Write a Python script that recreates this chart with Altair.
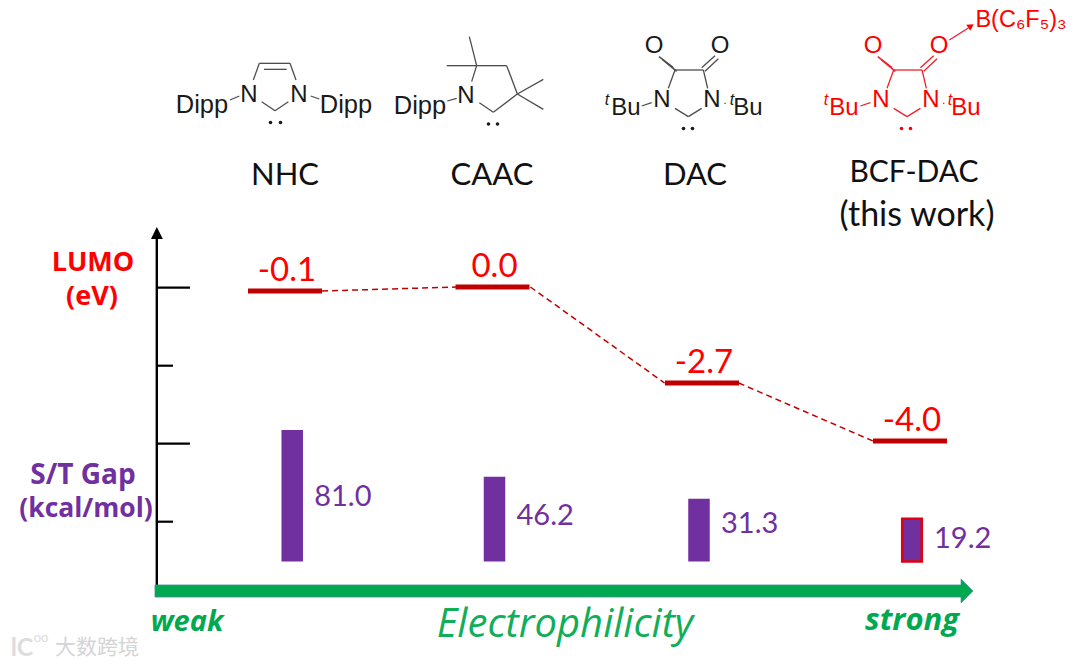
import altair as alt
import pandas as pd

# ---------- chart values ----------
categories = ["NHC", "CAAC", "DAC", "BCF-DAC"]
lumo_ev = [-0.1, 0.0, -2.7, -4.0]
lumo_labels = ["-0.1", "0.0", "-2.7", "-4.0"]
st_gap = [81.0, 46.2, 31.3, 19.2]
gap_labels = ["81.0", "46.2", "31.3", "19.2"]
axis_ticks = [0, 1, 2, 3]
axis_major = [1, 0, 1, 0]

RED, DARKRED, PURPLE, GREEN = "#FF0000", "#C00000", "#7030A0", "#00A850"
INK = "#1A1A1A"

# ---------- scales: plain numbers go in, figure pixels come out ----------
def px_x(v):
    return v - 8

def px_y(v):
    return v - 8

def canvas_x(f):
    return alt.X(f, type="quantitative", axis=None,
                 scale=alt.Scale(domain=[0, 1080], range=[-8, 1072], nice=False, zero=False, padding=0))

def canvas_y(f):
    return alt.Y(f, type="quantitative", axis=None,
                 scale=alt.Scale(domain=[0, 668], range=[-8, 660], nice=False, zero=False, padding=0))

x_level = alt.Scale(domain=[0, 1, 2, 3], range=[px_x(285), px_x(492.5), px_x(702), px_x(910)], nice=False, zero=False, padding=0)
x_bar = alt.Scale(domain=[0, 1, 2, 3], range=[px_x(292.2), px_x(494.5), px_x(699), px_x(912)], nice=False, zero=False, padding=0)
y_lumo = alt.Scale(domain=[-4.0, -2.7, -0.1, 0.0], range=[px_y(441), px_y(383), px_y(291), px_y(287)], nice=False, zero=False)
y_gap = alt.Scale(type="pow", exponent=0.78, domain=[0, 81], range=[px_y(561.5), px_y(430)], nice=False, zero=False, padding=0)
y_gap_label = alt.Scale(domain=[19.2, 31.3, 46.2, 81.0], range=[px_y(539), px_y(524), px_y(516), px_y(497)], nice=False, zero=False)
y_tick = alt.Scale(domain=[0, 3], range=[px_y(287.7), px_y(521.7)], nice=False, zero=False)

main = pd.DataFrame({"cat": categories, "i": range(4), "ev": lumo_ev, "ev_l": lumo_labels,
                     "gap": st_gap, "gap_l": gap_labels})
links = pd.DataFrame({"i": [0, 1, 2], "ev": lumo_ev[:-1], "ev_next": lumo_ev[1:]})
ticks = pd.DataFrame({"t": axis_ticks, "major": axis_major})

layers = []

# ---------- left axis ----------
layers.append(alt.Chart(pd.DataFrame({"x": [156.8], "y": [239], "y2": [585]})).mark_rule(color="black", strokeWidth=2.4)
              .encode(x=canvas_x("x"), y=canvas_y("y"), y2="y2:Q"))
layers.append(alt.Chart(pd.DataFrame({"y": [227, 239], "x": [156.8, 151], "x2": [156.8, 162.8]}))
              .mark_area(orient="horizontal", color="black")
              .encode(y=canvas_y("y"), x=canvas_x("x"), x2="x2:Q"))
layers.append(alt.Chart(ticks).transform_calculate(x0="157", x1="datum.major ? 190 : 173")
              .mark_rule(color="black", strokeWidth=2.2)
              .encode(y=alt.Y("t:Q", scale=y_tick, axis=None), x=canvas_x("x0:Q"), x2="x1:Q"))

# ---------- LUMO levels ----------
half = 0.178
layers.append(alt.Chart(links)
              .transform_calculate(a=f"datum.i+{half}*1.0", b=f"datum.i+1-{half}*1.0")
              .mark_rule(color=DARKRED, strokeWidth=1.5, strokeDash=[6, 4])
              .encode(x=alt.X("a:Q", scale=alt.Scale(domain=[0, 3], range=[px_x(285), px_x(910)], nice=False, zero=False), axis=None),
                      x2="b:Q",
                      y=alt.Y("ev:Q", scale=y_lumo, axis=None), y2="ev_next:Q"))
layers.append(alt.Chart(main).mark_tick(orient="horizontal", color=DARKRED, size=74, thickness=5, opacity=1)
              .encode(x=alt.X("i:Q", scale=x_level, axis=None), y=alt.Y("ev:Q", scale=y_lumo, axis=None)))
layers.append(alt.Chart(main).mark_text(font="Lato", fontSize=33, color=RED, baseline="middle", dx=2, dy=-20.5)
              .encode(x=alt.X("i:Q", scale=x_level, axis=None), y=alt.Y("ev:Q", scale=y_lumo, axis=None), text="ev_l:N"))

# ---------- S/T gap bars ----------
layers.append(alt.Chart(main).transform_filter("datum.cat != 'BCF-DAC'").mark_bar(color=PURPLE, size=21.5)
              .encode(x=alt.X("i:Q", scale=x_bar, axis=None), y=alt.Y("gap:Q", scale=y_gap, axis=None), y2=alt.datum(0)))
layers.append(alt.Chart(main).transform_filter("datum.cat == 'BCF-DAC'")
              .mark_bar(color=PURPLE, size=19.5, stroke="#E00010", strokeWidth=2.6)
              .encode(x=alt.X("i:Q", scale=x_bar, axis=None), y=alt.Y("gap:Q", scale=y_gap, axis=None), y2=alt.datum(0)))
layers.append(alt.Chart(main).mark_text(font="Lato", fontSize=29, color=PURPLE, align="left", baseline="middle", dx=22)
              .encode(x=alt.X("i:Q", scale=x_bar, axis=None), y=alt.Y("gap:Q", scale=y_gap_label, axis=None), text="gap_l:N"))

# ---------- electrophilicity arrow ----------
layers.append(alt.Chart(pd.DataFrame({"x": [155], "x2": [961.5], "y": [585], "y2": [597]}))
              .mark_rect(color=GREEN, stroke="#3E8E8E", strokeWidth=0.8)
              .encode(x=canvas_x("x"), x2="x2:Q", y=canvas_y("y"), y2="y2:Q"))
layers.append(alt.Chart(pd.DataFrame({"x": [961, 973], "y": [579, 591], "y2": [603, 591]}))
              .mark_area(color=GREEN, stroke="#3E8E8E", strokeWidth=0.6)
              .encode(x=canvas_x("x"), y=canvas_y("y"), y2="y2:Q"))
layers.append(alt.Chart(pd.DataFrame({"x": [958], "x2": [964], "y": [591]}))
              .mark_rule(color=GREEN, strokeWidth=11)
              .encode(x=canvas_x("x"), x2="x2:Q", y=canvas_y("y")))

# ---------- molecular sketches ----------
def group(sx, sy, segs):
    return [(sx + a / 3, sy + b / 3, sx + c / 3, sy + d / 3) for a, b, c, d in segs]

nhc = group(160, 20, [(280, 180, 298, 130), (298, 130, 390, 130), (312, 148, 380, 148), (390, 130, 408, 180),
                      (305, 245, 345, 272), (345, 272, 385, 245), (210, 240, 238, 228), (452, 228, 478, 237)])
caac = group(160, 20, [(935, 185, 950, 137), (950, 137, 1040, 137), (1040, 137, 1072, 222), (1072, 222, 1000, 277),
                       (1000, 277, 958, 248), (950, 137, 928, 50), (950, 137, 860, 137), (1072, 222, 1150, 178),
                       (1072, 222, 1150, 268), (862, 243, 890, 235)])
dac_segs = [(255, 210, 340, 210), (255, 210, 235, 265), (340, 210, 353, 265),
            (335, 203, 375, 167), (345, 214, 385, 176), (255, 325, 295, 350), (295, 350, 335, 325), (155, 318, 185, 308),
            (403, 310, 407, 310)]
carbonyl_left = [(207, 170, 250, 203), (217, 178, 260, 214)]
dac = group(590, 0, dac_segs)
bcf = group(590 + 218.7, 0, dac_segs)

def rules(segs, color, w=1.3):
    df = pd.DataFrame(segs, columns=["x", "y", "x2", "y2"])
    return alt.Chart(df).mark_rule(color=color, strokeWidth=w).encode(
        x=canvas_x("x"), y=canvas_y("y"), x2="x2:Q", y2="y2:Q")

layers.append(rules(nhc + caac + dac, "#4D4D4D"))
layers.append(rules(bcf + group(590, 0, [(1078, 120, 1135, 84)]), "#F0202A"))
layers.append(alt.Chart(pd.DataFrame({"x": [971], "y": [26]})).mark_point(shape="triangle-up", angle=57, filled=True, size=55, color=RED, opacity=1)
              .encode(x=canvas_x("x"), y=canvas_y("y")))
dots = pd.DataFrame({"x": [270.5, 280.5, 488.5, 497.5, 683.5, 692.5, 901.5, 910.5],
                     "y": [122.5, 122.5, 124, 124, 128.5, 128.5, 128.5, 128.5],
                     "c": [INK] * 6 + [RED] * 2})
layers.append(alt.Chart(dots).mark_point(shape="circle", filled=True, size=13, opacity=1)
              .encode(x=canvas_x("x"), y=canvas_y("y"), color=alt.Color("c:N", scale=None)))

# ---------- every other text ----------
def texts(rows, **style):
    df = pd.DataFrame(rows, columns=["t", "x", "y"])
    return alt.Chart(df).mark_text(baseline="middle", **style).encode(x=canvas_x("x"), y=canvas_y("y"), text="t:N")

SANS = "Liberation Sans"
layers += [
    texts([("NHC", 285, 176), ("CAAC", 492, 176), ("DAC", 695, 176)], font="Lato", fontSize=31, color="#111111"),
    texts([("BCF-DAC", 914, 173)], font="Lato", fontSize=30, color="#111111"),
    texts([("(this work)", 917, 216)], font="Lato", fontSize=34, color="#111111"),
    texts([("LUMO", 93, 263), ("(eV)", 92, 297)], font="Open Sans", fontSize=27, fontWeight="bold", color=RED),
    texts([("S/T Gap", 83, 476)], font="Open Sans", fontSize=28, fontWeight="bold", color=PURPLE),
    texts([("(kcal/mol)", 86, 509)], font="Open Sans", fontSize=26.5, fontWeight="bold", color=PURPLE),
    texts([("Dipp", 202, 105), ("Dipp", 346, 105), ("Dipp", 420, 106)], font=SANS, fontSize=25.5, color=INK),
    texts([("N", 249, 95), ("N", 299, 95), ("N", 466, 96),
           ("O", 654, 46), ("O", 720, 46), ("N", 662, 100), ("N", 712, 100), ("Bu", 626, 108), ("Bu", 748, 108)],
          font=SANS, fontSize=24, color=INK),
    texts([("t", 607, 100), ("t", 732, 100)], font=SANS, fontSize=16, fontStyle="italic", color=INK),
    texts([("O", 873, 46), ("O", 939, 46), ("N", 881, 100), ("N", 931, 100), ("Bu", 844, 108), ("Bu", 966, 108)],
          font=SANS, fontSize=24, color=RED),
    texts([("t", 826, 100), ("t", 950, 100)], font=SANS, fontSize=16, fontStyle="italic", color=RED),
    texts([("B(C₆F₅)₃", 1021, 20)], font=SANS, fontSize=23.5, color=RED),
    texts([("weak", 187, 622)], font="Open Sans", fontSize=29, fontWeight="bold", fontStyle="italic", color=GREEN),
    texts([("strong", 912, 621)], font="Open Sans", fontSize=31, fontWeight="bold", fontStyle="italic", color=GREEN),
    texts([("Electrophilicity", 565, 625)], font="Open Sans", fontSize=40, fontStyle="italic", color="#10AE58"),
    texts([("大数跨境", 97, 648)], font="Noto Sans CJK SC", fontSize=21, color="#D4D4D4"),
    texts([("lC", 22, 648)], font="Lato", fontSize=25, fontWeight="bold", color="#DDDDDD"),
    texts([("oo", 41, 638)], font="Lato", fontSize=13, color="#DDDDDD"),
]
# left carbonyls drawn last, on top of everything
layers.append(rules(group(590, 0, carbonyl_left), "#4D4D4D", 1.5))
layers.append(rules(group(590 + 218.7, 0, carbonyl_left), "#F0202A", 1.5))

chart = (alt.layer(*layers)
         .resolve_scale(x="independent", y="independent", color="independent")
         .properties(width=1064, height=652, padding=0, autosize=alt.AutoSizeParams(type="none"), background="white")
         .configure_view(stroke=None))
chart.save("out.html", embed_options={"renderer": "svg", "actions": False})
